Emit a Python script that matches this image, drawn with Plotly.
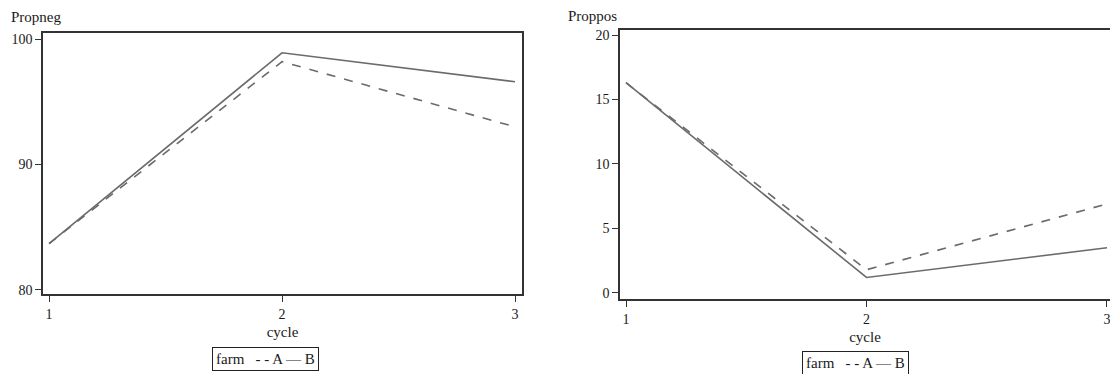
import plotly.graph_objects as go

cycle = [1, 2, 3]
farms = ["A", "B"]
propneg_A = [83.7, 98.2, 93.0]
propneg_B = [83.7, 98.9, 96.6]
proppos_A = [16.3, 1.8, 6.9]
proppos_B = [16.3, 1.2, 3.5]

W, H = 1110, 374
def fx(px): return px / W
def fy(py): return 1 - py / H

FONT = "Liberation Serif"
LINE = "#6b6b6b"
AX = "#333333"
TXT = "#1a1a1a"

fig = go.Figure()
for xa, ya, ya_vals, yb_vals in [("x", "y", propneg_A, propneg_B), ("x2", "y2", proppos_A, proppos_B)]:
    fig.add_trace(go.Scatter(x=cycle, y=ya_vals, mode="lines", name=farms[0],
                             line=dict(color=LINE, width=1.6, dash="dash"),
                             xaxis=xa, yaxis=ya, showlegend=False))
    fig.add_trace(go.Scatter(x=cycle, y=yb_vals, mode="lines", name=farms[1],
                             line=dict(color=LINE, width=1.6),
                             xaxis=xa, yaxis=ya, showlegend=False))

common_x = dict(tickvals=[1, 2, 3], ticks="outside", ticklen=6, tickcolor=AX,
                showline=True, linecolor=AX, linewidth=1.5, showgrid=False, automargin=False,
                zeroline=False, ticklabeloverflow="allow", mirror=True,
                tickfont=dict(family=FONT, size=14, color=TXT),
                title=dict(text="cycle", font=dict(family=FONT, size=15, color=TXT), standoff=6))
common_y = dict(ticks="outside", ticklen=6, tickcolor=AX, showline=True, linecolor=AX,
                linewidth=1.5, showgrid=False, zeroline=False, automargin=False,
                tickfont=dict(family=FONT, size=14, color=TXT))

legend_text = "farm&nbsp;&nbsp; - - " + farms[0] + " — " + farms[1]

fig.update_layout(
    width=W, height=H, margin=dict(l=0, r=0, t=0, b=0),
    paper_bgcolor="white", plot_bgcolor="white", showlegend=False,
    xaxis=dict(domain=[fx(43), fx(522)], range=[0.974, 3.03], anchor="y", **common_x),
    yaxis=dict(domain=[fy(294), fy(33)], range=[79.68, 100.48], tickvals=[80, 90, 100],
               anchor="x", mirror=True, **common_y),
    xaxis2=dict(domain=[fx(620), 1.0], range=[0.975, 3.0125], anchor="y2", **common_x),
    yaxis2=dict(domain=[fy(299), fy(30)], range=[-0.47, 20.39], tickvals=[0, 5, 10, 15, 20],
                anchor="x2", mirror=False, **common_y),
    annotations=[
        dict(text="Propneg", x=fx(9), y=fy(17), xref="paper", yref="paper", showarrow=False,
             xanchor="left", yanchor="middle", font=dict(family=FONT, size=15, color=TXT)),
        dict(text="Proppos", x=fx(566), y=fy(16), xref="paper", yref="paper", showarrow=False,
             xanchor="left", yanchor="middle", font=dict(family=FONT, size=15, color=TXT)),
        dict(text=legend_text, x=fx(265.5), y=fy(359), xref="paper", yref="paper", showarrow=False,
             xanchor="center", yanchor="middle", bordercolor="#222", borderwidth=1, borderpad=3,
             font=dict(family=FONT, size=15, color=TXT)),
        dict(text=legend_text, x=fx(855), y=fy(363), xref="paper", yref="paper", showarrow=False,
             xanchor="center", yanchor="middle", bordercolor="#222", borderwidth=1, borderpad=3,
             font=dict(family=FONT, size=15, color=TXT)),
    ],
)

fig.write_html("out.html", config={"displayModeBar": False},
               post_script="document.body.style.margin='0px';")
